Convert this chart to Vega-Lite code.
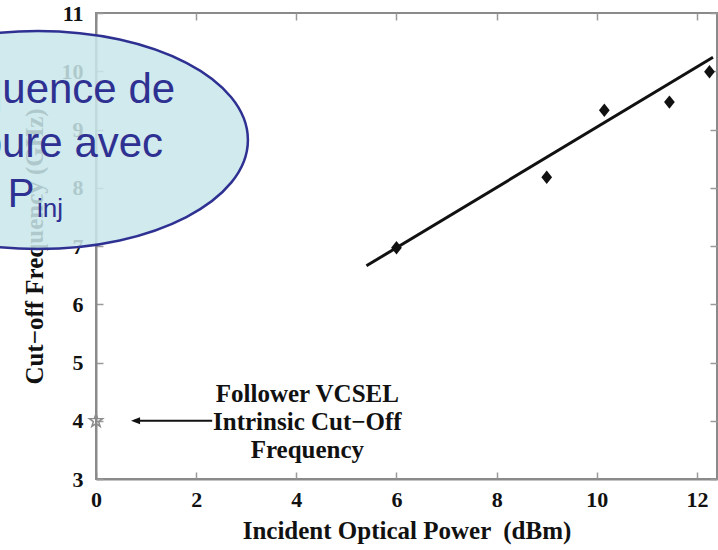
{
  "$schema": "https://vega.github.io/schema/vega-lite/v6.json",
  "autosize": {"type": "none"},
  "padding": {"left": 96, "top": 13, "right": 1, "bottom": 71},
  "width": 621,
  "height": 466,
  "background": "white",
  "config": {
    "view": {"stroke": "#8a8a8a", "strokeWidth": 2},
    "axis": {
      "grid": false,
      "labelFont": "Liberation Serif",
      "labelFontWeight": "bold",
      "labelFontSize": 22,
      "labelColor": "#111111",
      "titleFont": "Liberation Serif",
      "titleFontWeight": "bold",
      "titleFontSize": 25,
      "titleColor": "#111111",
      "domainColor": "#8a8a8a",
      "domainWidth": 2,
      "tickColor": "#9a9a9a",
      "tickWidth": 1.5,
      "tickSize": -7,
      "labelOverlap": false,
      "labelBound": false,
      "labelFlush": false
    }
  },
  "datasets": {
    "measured": [
      {"power": 6.0, "cutoff": 6.97},
      {"power": 9.0, "cutoff": 8.18},
      {"power": 10.15, "cutoff": 9.33},
      {"power": 11.45, "cutoff": 9.47},
      {"power": 12.25, "cutoff": 9.99}
    ],
    "fit": [
      {"power": 5.4, "cutoff": 6.66},
      {"power": 12.32, "cutoff": 10.24}
    ],
    "intrinsic": [
      {"power": 0.0, "cutoff": 4.0}
    ],
    "arrow": [
      {"power": 0.76, "cutoff": 4.0},
      {"power": 2.32, "cutoff": 4.0}
    ],
    "arrowTip": [
      {"power": 0.70, "cutoff": 4.0}
    ],
    "note": [
      {"power": 4.22, "cutoff": 4.32, "label": "Follower VCSEL\nIntrinsic Cut−Off\nFrequency"}
    ],
    "bubble": [
      {"power": -1.16, "cutoff": 8.82}
    ],
    "bubbleLines": [
      {"power": 1.58, "cutoff": 9.455, "label": "Fréquence de"},
      {"power": 1.34, "cutoff": 8.528, "label": "coupure avec"}
    ],
    "bubbleP": [
      {"power": -1.76, "cutoff": 7.67, "label": "P"}
    ],
    "bubbleSub": [
      {"power": -1.18, "cutoff": 7.50, "label": "inj"}
    ]
  },
  "layer": [
    {
      "data": {"name": "fit"},
      "mark": {"type": "line", "color": "#111111", "strokeWidth": 3},
      "encoding": {
        "x": {
          "field": "power", "type": "quantitative",
          "scale": {"domain": [0, 12.4], "nice": false, "zero": false},
          "axis": {
            "orient": "bottom",
            "title": "Incident Optical Power \u00a0(dBm)",
            "values": [0, 2, 4, 6, 8, 10, 12],
            "labelPadding": 17,
            "titlePadding": 8
          }
        },
        "y": {
          "field": "cutoff", "type": "quantitative",
          "scale": {"domain": [3, 11], "nice": false, "zero": false},
          "axis": {
            "orient": "left",
            "title": "Cut−off Frequency (GHz)",
            "values": [3, 4, 5, 6, 7, 8, 9, 10, 11],
            "labelPadding": 20,
            "titlePadding": 14
          }
        }
      }
    },
    {
      "data": {"name": "measured"},
      "mark": {
        "type": "point",
        "shape": "M0,-1L0.8,0L0,1L-0.8,0Z",
        "size": 180,
        "filled": true,
        "color": "#111111",
        "opacity": 1
      },
      "encoding": {
        "x": {
          "field": "power", "type": "quantitative",
          "axis": {
            "orient": "top", "labels": false, "domain": false, "title": null,
            "values": [0, 2, 4, 6, 8, 10, 12]
          }
        },
        "y": {
          "field": "cutoff", "type": "quantitative",
          "axis": {
            "orient": "right", "labels": false, "domain": false, "title": null,
            "values": [3, 4, 5, 6, 7, 8, 9, 10, 11]
          }
        }
      }
    },
    {
      "data": {"name": "intrinsic"},
      "mark": {
        "type": "point",
        "shape": "M0,-1L0.235,-0.324L0.951,-0.309L0.38,0.124L0.588,0.809L0,0.4L-0.588,0.809L-0.38,0.124L-0.951,-0.309L-0.235,-0.324Z",
        "size": 196,
        "filled": false,
        "stroke": "#8c8c8c",
        "strokeWidth": 1.5,
        "opacity": 1
      },
      "encoding": {
        "x": {"field": "power", "type": "quantitative", "axis": null},
        "y": {"field": "cutoff", "type": "quantitative", "axis": null}
      }
    },
    {
      "data": {"name": "arrow"},
      "mark": {"type": "line", "color": "#111111", "strokeWidth": 2},
      "encoding": {
        "x": {"field": "power", "type": "quantitative", "axis": null},
        "y": {"field": "cutoff", "type": "quantitative", "axis": null}
      }
    },
    {
      "data": {"name": "arrowTip"},
      "mark": {
        "type": "point",
        "shape": "M0,0L1,-0.4L1,0.4Z",
        "size": 324,
        "filled": true,
        "color": "#111111",
        "opacity": 1
      },
      "encoding": {
        "x": {"field": "power", "type": "quantitative", "axis": null},
        "y": {"field": "cutoff", "type": "quantitative", "axis": null}
      }
    },
    {
      "data": {"name": "note"},
      "mark": {
        "type": "text",
        "font": "Liberation Serif",
        "fontWeight": "bold",
        "fontSize": 25,
        "lineHeight": 28,
        "lineBreak": "\n",
        "align": "center",
        "baseline": "alphabetic",
        "color": "#111111"
      },
      "encoding": {
        "x": {"field": "power", "type": "quantitative", "axis": null},
        "y": {"field": "cutoff", "type": "quantitative", "axis": null},
        "text": {"field": "label"}
      }
    },
    {
      "data": {"name": "bubble"},
      "mark": {
        "type": "point",
        "shape": "M-1,0C-1,-0.2866,-0.5523,-0.519,0,-0.519C0.5523,-0.519,1,-0.2866,1,0C1,0.2866,0.5523,0.519,0,0.519C-0.5523,0.519,-1,0.2866,-1,0Z",
        "size": 176400,
        "filled": true,
        "fill": "#c8e6ea",
        "fillOpacity": 0.86,
        "stroke": "#2e3192",
        "strokeWidth": 2.5,
        "opacity": 1
      },
      "encoding": {
        "x": {"field": "power", "type": "quantitative", "axis": null},
        "y": {"field": "cutoff", "type": "quantitative", "axis": null}
      }
    },
    {
      "data": {"name": "bubbleLines"},
      "mark": {
        "type": "text",
        "font": "Liberation Sans",
        "fontSize": 42,
        "align": "right",
        "baseline": "alphabetic",
        "color": "#2e3192"
      },
      "encoding": {
        "x": {"field": "power", "type": "quantitative", "axis": null},
        "y": {"field": "cutoff", "type": "quantitative", "axis": null},
        "text": {"field": "label"}
      }
    },
    {
      "data": {"name": "bubbleP"},
      "mark": {
        "type": "text",
        "font": "Liberation Sans",
        "fontSize": 40,
        "align": "left",
        "baseline": "alphabetic",
        "color": "#2e3192"
      },
      "encoding": {
        "x": {"field": "power", "type": "quantitative", "axis": null},
        "y": {"field": "cutoff", "type": "quantitative", "axis": null},
        "text": {"field": "label"}
      }
    },
    {
      "data": {"name": "bubbleSub"},
      "mark": {
        "type": "text",
        "font": "Liberation Sans",
        "fontSize": 26,
        "align": "left",
        "baseline": "alphabetic",
        "color": "#2e3192"
      },
      "encoding": {
        "x": {"field": "power", "type": "quantitative", "axis": null},
        "y": {"field": "cutoff", "type": "quantitative", "axis": null},
        "text": {"field": "label"}
      }
    }
  ],
  "resolve": {"axis": {"x": "independent", "y": "independent"}}
}
